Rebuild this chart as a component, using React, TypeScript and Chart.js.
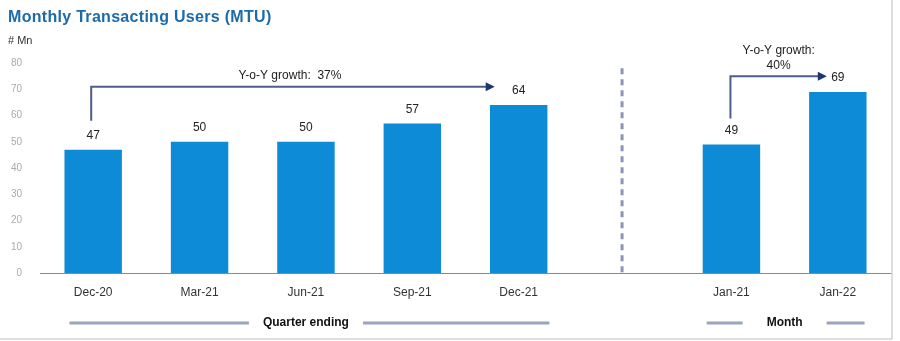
import React, { useEffect, useRef } from "react";
import { Chart, registerables } from "chart.js";

Chart.register(...registerables);

const categories = ["Dec-20", "Mar-21", "Jun-21", "Sep-21", "Dec-21", "", "Jan-21", "Jan-22"];
const mtuValues: (number | null)[] = [47, 50, 50, 57, 64, null, 49, 69];
const yTicks = [0, 10, 20, 30, 40, 50, 60, 70, 80];
const titleText = "Monthly Transacting Users (MTU)";
const unitText = "# Mn";
const growthQuarter = "Y-o-Y growth:  37%";
const growthMonthLines = ["Y-o-Y growth:", "40%"];
const groupQuarter = "Quarter ending";
const groupMonth = "Month";

const FONT = "'Liberation Sans', Arial, Helvetica, sans-serif";
const BAR = "#0d8bd6";
const ARROW = "#4f5d8c";
const GROUPLINE = "#9aa3bf";

function arrowHead(ctx: CanvasRenderingContext2D, x: number, y: number) {
  ctx.beginPath();
  ctx.moveTo(x + 6, y);
  ctx.lineTo(x - 3, y - 4.5);
  ctx.lineTo(x - 3, y + 4.5);
  ctx.closePath();
  ctx.fillStyle = "#1f3570";
  ctx.fill();
}

const overlayPlugin = {
  id: "overlay",
  afterDraw(chart: any) {
    const ctx: CanvasRenderingContext2D = chart.ctx;
    const xs = chart.scales.x;
    const ys = chart.scales.y;
    const ca = chart.chartArea;
    ctx.save();

    // title & unit
    ctx.textAlign = "left";
    ctx.textBaseline = "alphabetic";
    ctx.fillStyle = "#1b6aa9";
    ctx.font = `bold 16px ${FONT}`;
    (ctx as any).letterSpacing = "0.3px";
    ctx.fillText(titleText, 8, 22);
    (ctx as any).letterSpacing = "0px";
    ctx.fillStyle = "#333";
    ctx.font = `11px ${FONT}`;
    ctx.fillText(unitText, 8, 44);

    // value labels
    ctx.font = `12px ${FONT}`;
    ctx.fillStyle = "#222";
    ctx.textAlign = "center";
    ctx.textBaseline = "middle";
    mtuValues.forEach((v, i) => {
      if (v == null) return;
      ctx.fillText(String(v), xs.getPixelForValue(i), ys.getPixelForValue(v) - 14);
    });

    const step = xs.getPixelForValue(1) - xs.getPixelForValue(0);

    // arrow 1 (quarter)
    const a1x = xs.getPixelForValue(0) - 2;
    const a1y0 = ys.getPixelForValue(mtuValues[0] as number) - 29;
    const a1y = ys.getPixelForValue(71);
    const a1x2 = xs.getPixelForValue(4) - 30;
    ctx.strokeStyle = ARROW;
    ctx.lineWidth = 2;
    ctx.beginPath();
    ctx.moveTo(a1x, a1y0);
    ctx.lineTo(a1x, a1y);
    ctx.lineTo(a1x2, a1y);
    ctx.stroke();
    arrowHead(ctx, a1x2, a1y);
    ctx.fillStyle = "#222";
    ctx.font = `12px ${FONT}`;
    ctx.fillText(growthQuarter, (a1x + a1x2) / 2, a1y - 11);

    // arrow 2 (month)
    const a2x = xs.getPixelForValue(6) - 1;
    const a2y0 = ys.getPixelForValue(mtuValues[6] as number) - 26;
    const a2y = ys.getPixelForValue(75);
    const a2x2 = xs.getPixelForValue(7) - 17;
    ctx.beginPath();
    ctx.moveTo(a2x, a2y0);
    ctx.lineTo(a2x, a2y);
    ctx.lineTo(a2x2, a2y);
    ctx.stroke();
    arrowHead(ctx, a2x2, a2y);
    ctx.fillStyle = "#222";
    const mx = (a2x + a2x2) / 2 + 3;
    ctx.fillText(growthMonthLines[0], mx, a2y - 25);
    ctx.fillText(growthMonthLines[1], mx, a2y - 10);

    // dashed separator
    const sx = xs.getPixelForValue(5) - 3;
    ctx.strokeStyle = "#8c95b5";
    ctx.lineWidth = 3;
    ctx.setLineDash([6, 5]);
    ctx.beginPath();
    ctx.moveTo(sx, ys.getPixelForValue(78));
    ctx.lineTo(sx, ca.bottom + 2);
    ctx.stroke();
    ctx.setLineDash([]);

    // group labels
    const gy = 323;
    ctx.strokeStyle = GROUPLINE;
    ctx.lineWidth = 3;
    ctx.font = `bold 12px ${FONT}`;
    ctx.fillStyle = "#111";
    const half = step * 0.27;
    const qL = xs.getPixelForValue(0) - half + 5;
    const qR = xs.getPixelForValue(4) + half + 2;
    const qC = (xs.getPixelForValue(0) + xs.getPixelForValue(4)) / 2;
    const qW = ctx.measureText(groupQuarter).width / 2 + 14;
    ctx.beginPath();
    ctx.moveTo(qL, gy);
    ctx.lineTo(qC - qW, gy);
    ctx.moveTo(qC + qW, gy);
    ctx.lineTo(qR, gy);
    ctx.stroke();
    ctx.fillText(groupQuarter, qC, gy);

    const mL = xs.getPixelForValue(6) - half + 4;
    const mR = xs.getPixelForValue(7) + half - 2;
    const mC = (xs.getPixelForValue(6) + xs.getPixelForValue(7)) / 2;
    const mW = ctx.measureText(groupMonth).width / 2 + 24;
    ctx.beginPath();
    ctx.moveTo(mL, gy);
    ctx.lineTo(mC - mW, gy);
    ctx.moveTo(mC + mW, gy);
    ctx.lineTo(mR, gy);
    ctx.stroke();
    ctx.fillText(groupMonth, mC, gy);

    // frame
    ctx.strokeStyle = "#d4d4d4";
    ctx.lineWidth = 1.5;
    ctx.beginPath();
    ctx.moveTo(892, 0);
    ctx.lineTo(892, 339);
    ctx.lineTo(0, 339);
    ctx.stroke();

    ctx.restore();
  },
};

export default function App() {
  const ref = useRef<HTMLCanvasElement>(null);
  useEffect(() => {
    document.body.style.margin = "0";
    const chart = new Chart(ref.current!, {
      type: "bar",
      data: {
        labels: categories,
        datasets: [
          {
            data: mtuValues as any,
            backgroundColor: BAR,
            barPercentage: 0.54,
            categoryPercentage: 1,
          },
        ],
      },
      options: {
        animation: false,
        responsive: false,
        layout: { padding: { top: 63, right: 9, bottom: 0, left: 0 } },
        plugins: { legend: { display: false }, tooltip: { enabled: false } },
        scales: {
          x: {
            grid: { display: false, drawTicks: false },
            border: { display: true, color: "#8a8a8a", width: 1 },
            ticks: { color: "#333", font: { size: 12, family: FONT }, padding: 12, maxRotation: 0, autoSkip: false },
            afterFit: (s: any) => {
              s.height = 68;
            },
          },
          y: {
            min: 0,
            max: 80,
            afterBuildTicks: (s: any) => {
              s.ticks = yTicks.map((v) => ({ value: v }));
            },
            grid: { display: false, drawTicks: false },
            border: { display: false },
            ticks: { color: "#aaaaaa", font: { size: 10, family: FONT }, padding: 18 },
            afterFit: (s: any) => {
              s.width = 40;
            },
          },
        },
      },
      plugins: [overlayPlugin],
    });
    return () => chart.destroy();
  }, []);
  return (
    <div style={{ width: 900, height: 341, background: "#fff" }}>
      <canvas ref={ref} width={900} height={341} />
    </div>
  );
}
